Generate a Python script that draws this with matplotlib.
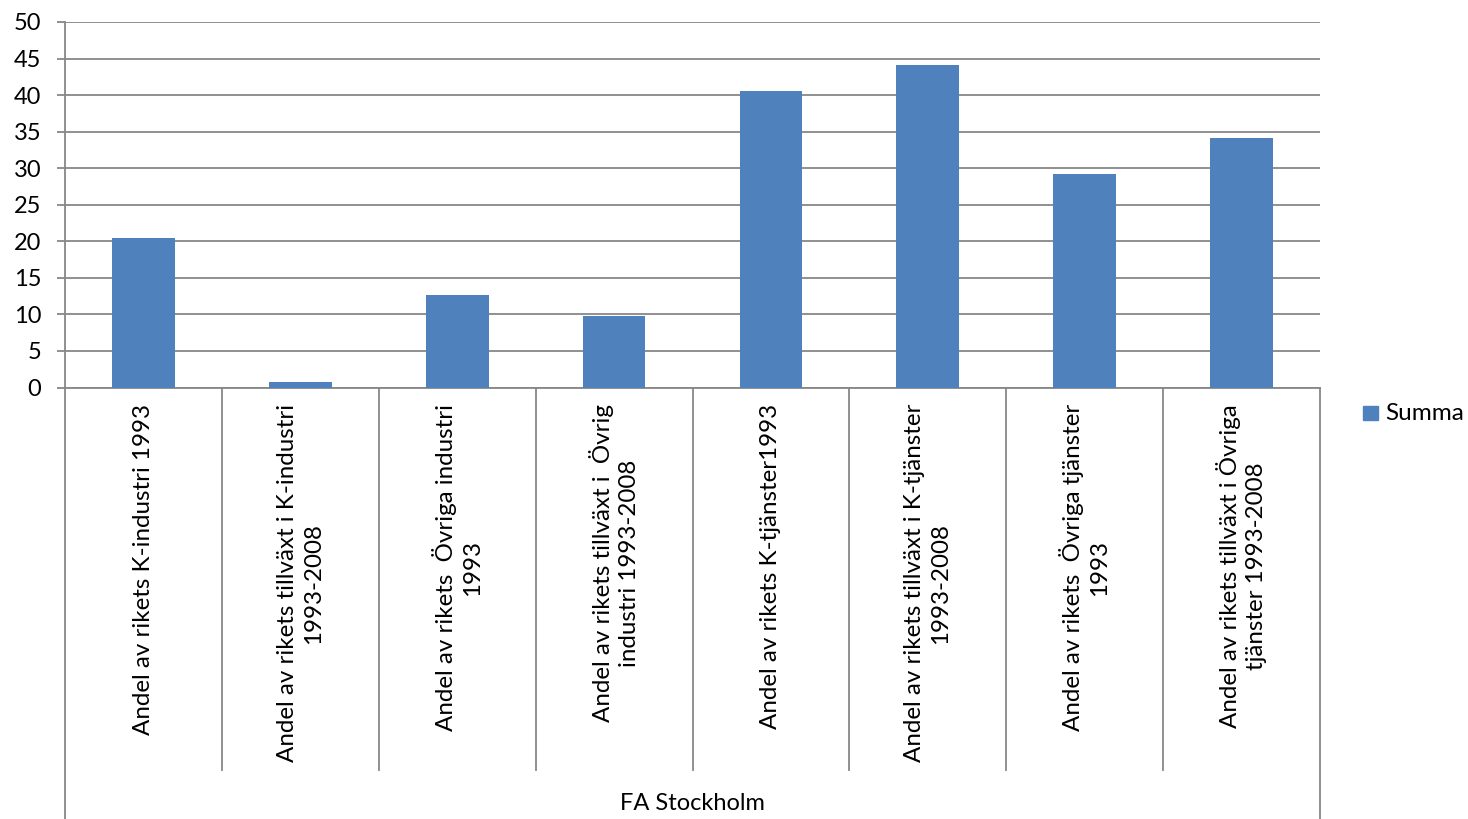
import numpy as np
import matplotlib.pyplot as plt
from matplotlib.patches import Rectangle

categories = [
    'Andel av rikets K-industri 1993',
    'Andel av rikets tillväxt i K-industri\n1993-2008',
    'Andel av rikets  Övriga industri\n1993',
    'Andel av rikets tillväxt i  Övrig\nindustri 1993-2008',
    'Andel av rikets K-tjänster1993',
    'Andel av rikets tillväxt i K-tjänster\n1993-2008',
    'Andel av rikets  Övriga tjänster\n1993',
    'Andel av rikets tillväxt i Övriga\ntjänster 1993-2008',
]
summa = [20.4, 0.7, 12.6, 9.8, 40.6, 44.1, 29.2, 34.1]
group_label = 'FA Stockholm'
series_name = 'Summa'
yticks = list(range(0, 51, 5))

W, H = 1468, 819
fig = plt.figure(figsize=(W / 100, H / 100), dpi=100)
plt.rcParams['font.family'] = ['Lato', 'DejaVu Sans']
x0, x1, ytop, ybot = 65, 1320, 22, 387.5
ax = fig.add_axes([x0 / W, 1 - ybot / H, (x1 - x0) / W, (ybot - ytop) / H])

blue = '#4F81BD'
grid = '#878787'
n = len(categories)
x = np.arange(n)
ax.bar(x, summa, width=0.4, color=blue, zorder=3)
ax.set_xlim(-0.5, n - 0.5)
ax.set_ylim(0, 50)
ax.set_yticks(yticks)
ax.set_yticklabels([str(v) for v in yticks], fontsize=17)
ax.tick_params(axis='y', length=6, width=1.3, color=grid, pad=11)
ax.tick_params(axis='x', length=0, labelbottom=False)
for v in yticks:
    ax.axhline(v, color=grid, lw=1.3, zorder=1)
for s in ['top', 'right']:
    ax.spines[s].set_visible(False)
for s in ['left', 'bottom']:
    ax.spines[s].set_color(grid)
    ax.spines[s].set_linewidth(1.3)

ph = ybot - ytop
trans = ax.get_xaxis_transform()
y_sep = -(770 - ybot) / ph
y_end = -(819 - ybot) / ph
for i in range(n + 1):
    xb = i - 0.5
    yb = y_end if i in (0, n) else y_sep
    ax.plot([xb, xb], [0, yb], color=grid, lw=1.3, transform=trans, clip_on=False)

y_lab = -(404 - ybot) / ph
for i, lab in enumerate(categories):
    ax.text(i, y_lab, lab, rotation=90, ha='center', va='top', multialignment='center',
            fontsize=17.4, transform=trans, linespacing=1.3)

ax.text((n - 1) / 2, -(803 - ybot) / ph, group_label, ha='center', va='center',
        fontsize=17, transform=trans)

fig.patches.append(Rectangle((1363 / W, 1 - 420 / H), 15 / W, 14 / H,
                             transform=fig.transFigure, color=blue))
fig.text(1385 / W, 1 - 413 / H, series_name, ha='left', va='center', fontsize=17.5)

fig.savefig('out.png', dpi=100)
